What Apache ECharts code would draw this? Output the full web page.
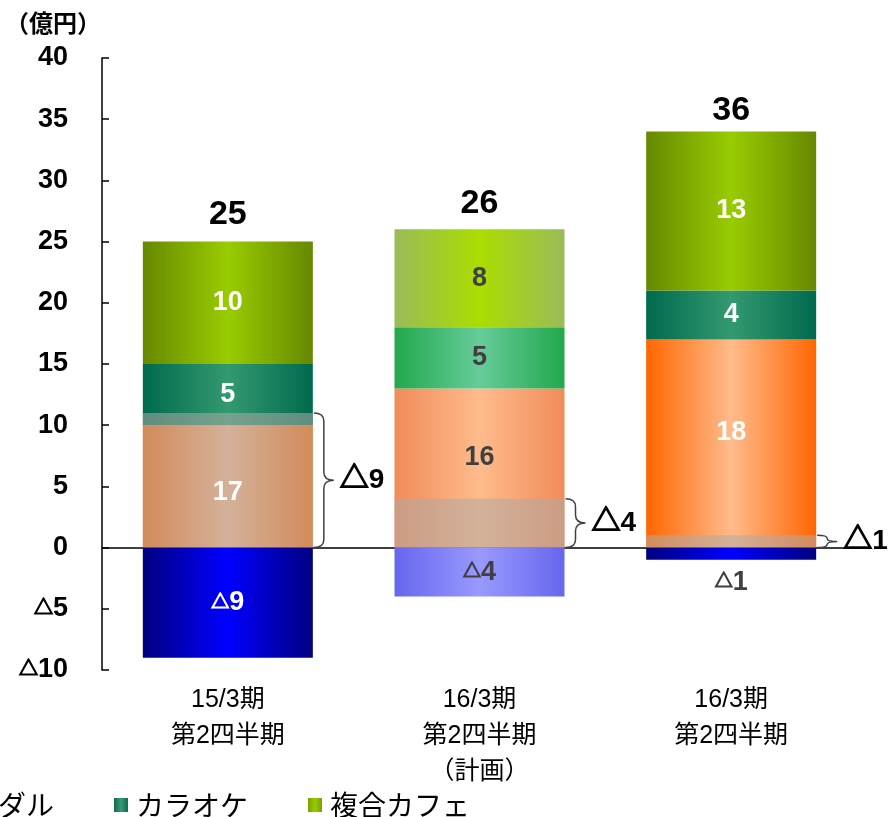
<!DOCTYPE html>
<html>
<head>
<meta charset="utf-8">
<script src="https://cdn.jsdelivr.net/npm/echarts@6/dist/echarts.min.js"></script>
<style>html,body{margin:0;padding:0;background:#fff;}#c{width:890px;height:817px;}</style>
</head>
<body>
<div id="c"></div>
<script>
// ---- data ----
const categories = ['15/3期\n第2四半期', '16/3期\n第2四半期\n（計画）', '16/3期\n第2四半期'];
const seriesNames = ['メダル', 'カラオケ', '複合カフェ'];
const medal = [10, 13, 17];
const karaoke = [5, 5, 4];
const cafe = [10, 8, 13];
const negative = [-9, -4, -1];
const overlap = [11, 4, 1];
const medalLabels = [17, 16, 18];
const totals = [25, 26, 36];
const yTicks = { min: -10, max: 40, interval: 5 };

// ---- styles ----
const FONT = '"Liberation Sans", Arial, "Noto Sans CJK JP", sans-serif';
const BAR_W = 170;
const medalColors = [['#ff6600', '#ffbb8c'], ['#f08c5a', '#ffbb8c'], ['#ff6600', '#ffbb8c']];
const karaokeColors = [['#006a4e', '#339970'], ['#22a84c', '#66cc99'], ['#006a4e', '#339970']];
const cafeColors = [['#668800', '#99cc00'], ['#9bbb59', '#aadd00'], ['#668800', '#99cc00']];
const negColors = [['#000080', '#0000ff'], ['#6666ee', '#9999ff'], ['#000080', '#0000ff']];
const labelColors = ['#ffffff', '#404040', '#ffffff'];
const medalLabelOffset = [[0, 6], [0, -10], [0, -11]];
const totalOffset = [-10, -9, -4];

function grad(edge, center) {
  return new echarts.graphic.LinearGradient(0, 0, 1, 0, [
    { offset: 0, color: edge }, { offset: 0.5, color: center }, { offset: 1, color: edge }
  ]);
}
const tri = (v) => '{t|△}' + v;
const labelBase = { fontSize: 27, fontWeight: 'bold', fontFamily: FONT };
const triRich = (color) => ({ t: { fontSize: 18, fontWeight: 'bold', fontFamily: FONT, color: color,
  textBorderColor: color, textBorderWidth: 1.2 } });

function items(values, colors, labelFn) {
  return values.map((v, i) => {
    const it = { value: v, itemStyle: { color: grad(colors[i][0], colors[i][1]) } };
    if (labelFn) it.label = labelFn(i);
    return it;
  });
}

const chart = echarts.init(document.getElementById('c'));
chart.setOption({
  animation: false,
  title: { text: '（億円）', left: 0, top: 8,
    textStyle: { fontSize: 24, fontWeight: 'bold', color: '#000', fontFamily: FONT } },
  legend: {
    data: seriesNames, left: -57, top: 786, icon: 'rect', itemWidth: 14, itemHeight: 14, itemGap: 60,
    selectedMode: false,
    textStyle: { fontSize: 28, color: '#000', fontFamily: '"Noto Sans CJK JP", sans-serif', padding: [0, 0, 0, 3] }
  },
  grid: { left: 102, right: 33, top: 58, bottom: 147, containLabel: false, outerBoundsMode: 'none' },
  xAxis: {
    type: 'category', data: categories,
    axisLine: { onZero: true, lineStyle: { color: '#000', width: 1.5 } },
    axisTick: { inside: true, length: 7, lineStyle: { color: '#000', width: 1.5 } },
    axisLabel: { interval: 0, margin: 12, fontSize: 25, lineHeight: 36, color: '#000',
      fontFamily: '"Liberation Sans", "Noto Sans CJK JP", sans-serif' }
  },
  yAxis: {
    type: 'value', min: yTicks.min, max: yTicks.max, interval: yTicks.interval,
    splitLine: { show: false },
    axisLine: { show: true, lineStyle: { color: '#000', width: 1.5 } },
    axisTick: { show: true, inside: true, length: 7, lineStyle: { color: '#000', width: 1.5 } },
    axisLabel: {
      margin: 34, fontSize: 27, fontWeight: 'bold', color: '#000', fontFamily: FONT,
      formatter: (v) => v < 0 ? tri(-v) : String(v),
      rich: { t: { fontSize: 19, fontWeight: 'bold', color: '#000', fontFamily: FONT,
        textBorderColor: '#000', textBorderWidth: 1.2 } }
    }
  },
  series: [
    {
      name: seriesNames[0], type: 'bar', stack: 'main', barWidth: BAR_W, barGap: '-100%',
      itemStyle: { color: grad('#ff6600', '#ffbb8c') },
      label: Object.assign({ show: true, position: 'inside' }, labelBase),
      data: items(medal, medalColors, (i) => ({ color: labelColors[i], offset: medalLabelOffset[i],
        formatter: String(medalLabels[i]) }))
    },
    {
      name: seriesNames[1], type: 'bar', stack: 'main', barWidth: BAR_W, barGap: '-100%',
      itemStyle: { color: grad('#0e6b50', '#3a9a76') },
      label: Object.assign({ show: true, position: 'inside', formatter: '{c}' }, labelBase),
      data: items(karaoke, karaokeColors, (i) => ({ color: labelColors[i] }))
    },
    {
      name: seriesNames[2], type: 'bar', stack: 'main', barWidth: BAR_W, barGap: '-100%',
      itemStyle: { color: grad('#7aa000', '#99cc00') },
      label: Object.assign({ show: true, position: 'inside', formatter: '{c}' }, labelBase),
      data: items(cafe, cafeColors, (i) => ({ color: labelColors[i] }))
    },
    {
      name: 'total', type: 'bar', stack: 'main', barWidth: BAR_W, barGap: '-100%',
      itemStyle: { color: 'rgba(0,0,0,0)' }, silent: true,
      label: { show: true, position: 'insideBottom', fontSize: 34, fontWeight: 'bold', color: '#000', fontFamily: FONT },
      data: totals.map((t, i) => ({ value: 0, label: { formatter: String(t), distance: 0, offset: [0, totalOffset[i]] } }))
    },
    {
      name: 'negative', type: 'bar', stack: 'main', barWidth: BAR_W, barGap: '-100%',
      label: Object.assign({ show: true, position: 'inside' }, labelBase),
      data: items(negative, negColors, (i) => i === 2
        ? { position: 'bottom', distance: 9, color: '#404040', formatter: tri(-negative[i]), rich: triRich('#404040') }
        : { color: labelColors[i], formatter: tri(-negative[i]), rich: triRich(labelColors[i]) })
    },
    {
      name: 'overlap', type: 'bar', stack: 'ov', barWidth: BAR_W, barGap: '-100%', silent: true,
      itemStyle: { color: 'rgba(175,170,165,0.55)' },
      data: overlap
    },
    {
      name: 'brace', type: 'custom', silent: true, z: 4,
      data: overlap.map((v, i) => [i, v, -negative[i]]),
      renderItem: function (params, api) {
        const i = api.value(0);
        const p0 = api.coord([i, 0]);
        const p1 = api.coord([i, api.value(1)]);
        const x0 = p0[0] + BAR_W / 2 + 1;
        const y0 = p0[1], y1 = p1[1];
        const h = y0 - y1;
        const ym = (y0 + y1) / 2;
        const w = 10, tip = 10;
        const r = Math.min(8, h / 4);
        const d = `M${x0},${y1} Q${x0 + w},${y1} ${x0 + w},${y1 + r} L${x0 + w},${ym - r} Q${x0 + w},${ym} ${x0 + w + tip},${ym}` +
          ` Q${x0 + w},${ym} ${x0 + w},${ym + r} L${x0 + w},${y0 - r} Q${x0 + w},${y0} ${x0},${y0}`;
        return {
          type: 'group',
          children: [
            { type: 'path', shape: { pathData: d }, style: { fill: null, stroke: '#404040', lineWidth: 1.5 } },
            { type: 'text', x: x0 + w + tip + 6, y: ym,
              style: { text: '{t|△}{n|' + api.value(2) + '}', verticalAlign: 'middle', align: 'left',
                rich: {
                  t: { fontSize: 29, fontWeight: 'bold', fontFamily: FONT, fill: '#000', stroke: '#000', lineWidth: 1.4 },
                  n: { fontSize: 28, fontWeight: 'bold', fontFamily: FONT, fill: '#000' }
                } } }
          ]
        };
      }
    }
  ]
});
</script>
</body>
</html>
